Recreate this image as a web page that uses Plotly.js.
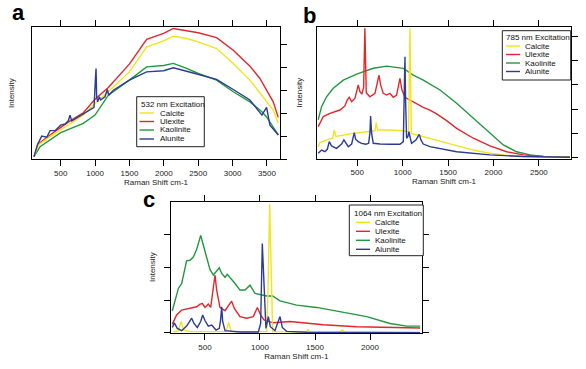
<!DOCTYPE html>
<html><head><meta charset="utf-8">
<script src="https://cdn.plot.ly/plotly-3.0.1.min.js"></script>
<style>html,body{margin:0;padding:0;background:#fff}#chart{width:586px;height:369px}</style>
</head><body><div id="chart"></div>
<script>
const names = ['Calcite','Ulexite','Kaolinite','Alunite'];
const colors = ['#f2e41c','#e3262b','#21983f','#2b3b97'];
const legendTitles = ['532 nm Excitation','785 nm Excitation','1064 nm Excitation'];
const xTitle = 'Raman Shift cm-1';
const yTitle = 'Intensity';
const panelLabels = ['a','b','c'];

// ---- Panel a : 532 nm ----
const a_x = [112,175,345,500,636,829,999,1193,1498,1750,1997,2138,2331,2501,2767,3010,3252,3397,3494,3591,3664];
const a_calcite = [0.10,0.61,0.98,1.27,1.56,1.92,2.43,2.94,3.81,4.91,5.17,5.37,5.27,5.12,4.83,4.18,3.45,2.87,2.50,2.14,1.56];
const a_ulexite = [0.10,0.66,1.05,1.37,1.67,2.02,2.61,3.13,4.15,5.23,5.49,5.71,5.61,5.52,5.31,4.76,4.06,3.52,3.01,2.50,1.82];
const a_kaol_x = [112,200,500,829,999,1193,1498,1750,1997,2138,2331,2501,2767,3010,3252,3426,3494,3591,3664];
const a_kaolinite = [0.10,0.54,1.15,1.56,1.92,2.79,3.45,4.03,4.09,4.18,3.96,3.74,3.45,2.94,2.50,2.07,1.84,1.41,1.05];
const a_alun_x = [112,160,224,297,345,418,500,563,611,636,660,829,985,1004,1014,1023,1038,1062,1081,1144,1178,1198,1266,1498,1750,1997,2138,2331,2501,2767,3010,3252,3426,3494,3543,3664];
const a_alunite = [0.10,0.61,1.00,0.95,1.24,1.24,1.48,1.53,1.67,1.92,1.67,1.99,2.26,3.45,3.96,2.72,2.50,2.72,2.58,2.72,3.04,2.79,3.01,3.45,3.81,3.86,3.99,3.84,3.71,3.48,3.04,2.58,1.92,2.26,1.48,1.05];

// ---- Panel b : 785 nm ----
const b_calc_x = [70,89,162,228,247,265,419,639,695,709,724,860,1007,1065,1080,1095,1227,1411,1594,1778,1961,2145,2328,2842];
const b_calcite = [0.44,0.61,0.72,0.79,1.13,0.86,0.97,1.08,1.10,1.44,1.13,1.13,1.10,1.05,5.35,0.99,0.86,0.69,0.51,0.30,0.17,0.08,0.03,0.00];
const b_ulex_x = [70,126,199,309,364,390,412,438,474,493,511,529,551,570,584,599,639,695,720,739,757,786,823,860,896,933,970,992,1025,1080,1153,1190,1227,1300,1374,1484,1594,1778,1961,2145,2328,2548,2842];
const b_ulexite = [1.27,1.69,1.82,1.96,2.13,2.38,2.49,2.31,2.44,2.76,3.00,2.72,2.62,2.90,5.35,2.68,2.51,2.65,3.07,3.41,3.00,2.65,2.58,2.65,2.49,2.58,3.27,2.79,2.49,2.38,2.21,2.13,2.07,1.96,1.80,1.52,1.20,0.79,0.47,0.23,0.10,0.03,0.01];
const b_kaol_x = [70,107,162,236,346,493,676,823,1007,1117,1227,1411,1594,1778,1961,2108,2255,2402,2548,2842];
const b_kaolinite = [1.55,2.10,2.51,2.86,3.20,3.45,3.69,3.78,3.69,3.41,3.20,2.79,2.24,1.62,0.99,0.51,0.23,0.10,0.04,0.01];
const b_alun_x = [70,107,144,170,192,217,272,327,353,375,401,438,456,467,482,511,548,595,625,639,647,658,676,750,860,970,1007,1018,1025,1032,1043,1058,1069,1084,1098,1146,1183,1201,1227,1300,1410,1594,1961,2328,2842];
const b_alunite = [0.17,0.30,0.23,0.33,0.65,0.47,0.37,0.55,0.72,0.58,0.44,0.55,0.79,1.02,0.75,0.65,0.58,0.54,0.58,0.99,1.71,0.99,0.58,0.55,0.54,0.54,0.65,2.38,4.17,2.38,0.79,0.86,1.06,0.79,0.58,0.72,0.95,0.72,0.55,0.44,0.35,0.23,0.10,0.03,0.00];

// ---- Panel c : 1064 nm ----
const c_calc_x = [212,258,282,306,364,691,715,739,1061,1073,1088,1103,1115,1424,1436,1448,1727,1748,1770,2455];
const c_calcite = [0.03,0.07,0.35,0.09,0.04,0.04,0.31,0.04,0.04,1.31,3.93,1.31,0.04,0.03,0.11,0.03,0.03,0.09,0.03,0.02];
const c_ulex_x = [203,242,288,364,424,455,476,500,530,552,576,591,606,636,682,721,742,767,818,879,939,976,1006,1036,1121,1273,1424,1576,1879,2182,2455];
const c_ulexite = [0.27,0.55,0.70,0.75,0.80,0.88,0.90,0.78,0.88,0.78,1.31,1.77,1.31,0.78,0.68,0.88,0.97,0.75,0.50,0.45,0.50,0.78,0.55,0.40,0.31,0.35,0.29,0.25,0.19,0.16,0.15];
const c_kaol_x = [203,227,258,288,312,333,364,394,424,461,485,515,545,576,612,630,652,682,703,727,773,818,864,909,955,1061,1115,1182,1333,1515,1727,1970,2182,2333,2455];
const c_kaolinite = [0.68,1.01,1.36,1.51,1.92,2.20,2.22,2.32,2.55,2.98,2.68,2.32,1.94,1.77,1.92,1.99,1.82,1.70,1.79,1.70,1.51,1.31,1.31,1.46,1.21,1.13,1.13,0.98,0.85,0.78,0.65,0.50,0.29,0.21,0.21];
const c_alun_x = [203,221,248,288,333,364,379,400,430,461,479,500,530,561,600,630,642,652,661,682,818,985,1006,1021,1036,1054,1076,1094,1136,1182,1203,1242,1424,2455];
const c_alunite = [0.17,0.31,0.14,0.07,0.21,0.40,0.45,0.29,0.17,0.35,0.55,0.38,0.21,0.24,0.09,0.14,0.40,0.80,0.35,0.07,0.03,0.03,0.29,2.73,1.31,0.14,0.50,0.19,0.07,0.50,0.17,0.05,0.02,0.01];

const panels = [
  {xs:[a_x,a_x,a_kaol_x,a_alun_x], ys:[a_calcite,a_ulexite,a_kaolinite,a_alunite]},
  {xs:[b_calc_x,b_ulex_x,b_kaol_x,b_alun_x], ys:[b_calcite,b_ulexite,b_kaolinite,b_alunite]},
  {xs:[c_calc_x,c_ulex_x,c_kaol_x,c_alun_x], ys:[c_calcite,c_ulexite,c_kaolinite,c_alunite]}
];

// geometry (pixels)
const W = 586, H = 369;
const px = v => v / W, py = v => 1 - v / H;
const geo = [
  {l:32.3, r:279.7, t:27.3, b:159, xr:[87,3685], yr:[0,5.76], mirrorY:true,
   lg:{l:136.7, r:204.3, t:96.7, b:146.7, tx:139.3, ty:104.5, lx0:139.5, lx1:154, txt:158.3, rows:[113,121.5,130,139]},
   ytl:{x:12, y:93}, lab:{x:10, y:13}},
  {l:317.3, r:570.7, t:27.3, b:158.5, xr:[60,2850], yr:[-0.05,5.39], mirrorY:true,
   lg:{l:502.3, r:570.7, t:30.7, b:80, tx:504.3, ty:37.5, lx0:506, lx1:520, txt:523.3, rows:[46,54.5,63,71.5]},
   ytl:{x:299.5, y:93}, lab:{x:301, y:15}},
  {l:171, r:421.7, t:202.3, b:333.3, xr:[191,2470], yr:[-0.01,3.99], mirrorY:'ticks',
   lg:{l:349.3, r:423.3, t:205, b:255.7, tx:352.3, ty:213.3, lx0:356, lx1:370, txt:373.3, rows:[222.3,231.3,240.3,249.3]},
   ytl:{x:152, y:267}, lab:{x:141, y:199}}
];

const font = 'Liberation Sans, Arial, Helvetica, sans-serif';
const data = [];
const layout = {
  width: W, height: H, margin:{l:0,r:0,t:0,b:0},
  paper_bgcolor:'#fff', plot_bgcolor:'#fff', showlegend:false,
  font:{family:font, size:8, color:'#222'},
  shapes:[], annotations:[]
};

panels.forEach((p, i) => {
  const g = geo[i];
  const xa = i === 0 ? 'x' : 'x' + (i+1);
  const ya = i === 0 ? 'y' : 'y' + (i+1);
  const order = [2,1,0,3];
  order.forEach(k => {
    data.push({x:p.xs[k], y:p.ys[k], type:'scatter', mode:'lines', name:names[k],
      xaxis:xa, yaxis:ya, line:{color:colors[k], width:1.4}, hoverinfo:'skip'});
  });
  const xkey = i === 0 ? 'xaxis' : 'xaxis' + (i+1);
  const ykey = i === 0 ? 'yaxis' : 'yaxis' + (i+1);
  layout[xkey] = {domain:[px(g.l), px(g.r)], range:g.xr, anchor:ya,
    showline:true, linecolor:'#000', linewidth:1, mirror:'ticks',
    ticks:'outside', ticklen:6, tickcolor:'#000', tickwidth:1,
    tick0:0, dtick:500, showgrid:false, zeroline:false,
    tickfont:{family:font, size:8, color:'#222'},
    title:{text:xTitle, font:{family:font, size:8, color:'#222'}, standoff:2}};
  layout[ykey] = {domain:[py(g.b), py(g.t)], range:g.yr, anchor:xa, side:'right',
    showline:true, linecolor:'#000', linewidth:1, mirror:g.mirrorY,
    ticks:'outside', ticklen:6, tickcolor:'#000', tickwidth:1,
    tick0:0, dtick:1, showticklabels:false, showgrid:false, zeroline:false};

  // y title
  layout.annotations.push({xref:'paper', yref:'paper', x:px(g.ytl.x), y:py(g.ytl.y),
    text:yTitle, textangle:-90, showarrow:false, xanchor:'center', yanchor:'middle',
    font:{family:font, size:8, color:'#222'}});
  // panel label
  layout.annotations.push({xref:'paper', yref:'paper', x:px(g.lab.x), y:py(g.lab.y),
    text:'<b>'+panelLabels[i]+'</b>', showarrow:false, xanchor:'left', yanchor:'middle',
    font:{family:font, size:22, color:'#000'}});
  // legend box
  const L = g.lg;
  layout.shapes.push({type:'rect', xref:'paper', yref:'paper', x0:px(L.l), x1:px(L.r),
    y0:py(L.b), y1:py(L.t), line:{color:'#222', width:1}, fillcolor:'#fff', layer:'above'});
  layout.annotations.push({xref:'paper', yref:'paper', x:px(L.tx), y:py(L.ty),
    text:legendTitles[i], showarrow:false, xanchor:'left', yanchor:'middle',
    font:{family:font, size:8, color:'#111'}});
  names.forEach((n, k) => {
    layout.shapes.push({type:'line', xref:'paper', yref:'paper', x0:px(L.lx0), x1:px(L.lx1),
      y0:py(L.rows[k]), y1:py(L.rows[k]), line:{color:colors[k], width:1.4}, layer:'above'});
    layout.annotations.push({xref:'paper', yref:'paper', x:px(L.txt), y:py(L.rows[k]),
      text:n, showarrow:false, xanchor:'left', yanchor:'middle',
      font:{family:font, size:8, color:'#111'}});
  });
});

Plotly.newPlot('chart', data, layout, {staticPlot:true, displayModeBar:false});
</script>
</body></html>
